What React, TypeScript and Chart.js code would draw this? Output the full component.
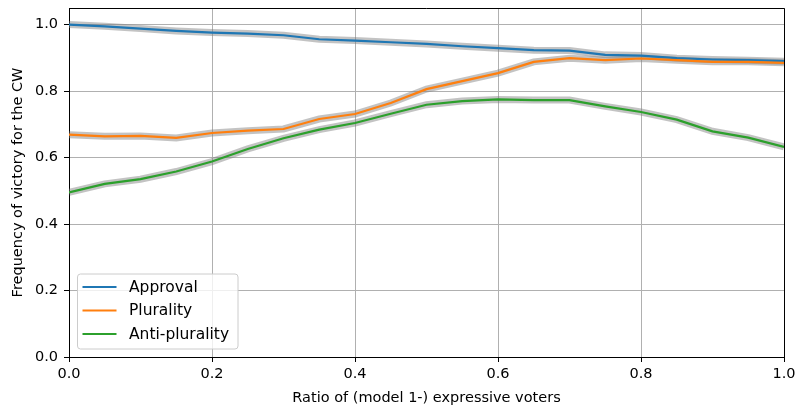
import React, { useEffect, useRef } from "react";
import { Chart, registerables } from "chart.js";

Chart.register(...registerables);

const xValues = [0, 0.05, 0.1, 0.15, 0.2, 0.25, 0.3, 0.35, 0.4, 0.45, 0.5, 0.55, 0.6, 0.65, 0.7, 0.75, 0.8, 0.85, 0.9, 0.95, 1.0];
const approval = [1.0, 0.995, 0.988, 0.981, 0.976, 0.973, 0.968, 0.956, 0.952, 0.947, 0.942, 0.935, 0.929, 0.923, 0.922, 0.909, 0.907, 0.899, 0.895, 0.893, 0.89];
const plurality = [0.669, 0.664, 0.665, 0.659, 0.674, 0.681, 0.686, 0.716, 0.731, 0.764, 0.806, 0.83, 0.854, 0.888, 0.899, 0.893, 0.898, 0.893, 0.888, 0.888, 0.885];
const antiPlurality = [0.495, 0.521, 0.535, 0.558, 0.588, 0.626, 0.658, 0.684, 0.704, 0.732, 0.759, 0.77, 0.775, 0.773, 0.773, 0.754, 0.737, 0.714, 0.679, 0.66, 0.632];
const xTicks = [0, 0.2, 0.4, 0.6, 0.8, 1.0];
const yTicks = [0, 0.2, 0.4, 0.6, 0.8, 1.0];
const seriesNames = ["Approval", "Plurality", "Anti-plurality"];
const seriesColors = ["#1f77b4", "#ff7f0e", "#2ca02c"];

const FONT = '"DejaVu Sans", sans-serif';

const toPoints = (ys: number[]) => ys.map((y, i) => ({ x: xValues[i], y }));

const framePlugin = {
  id: "frameAndLegend",
  afterDraw(chart: any) {
    const { ctx, chartArea } = chart;
    const { left, right, top, bottom } = chartArea;
    ctx.save();
    ctx.strokeStyle = "#000";
    ctx.lineWidth = 1;
    ctx.beginPath();
    ctx.moveTo(left, top + 0.5);
    ctx.lineTo(right + 0.5, top + 0.5);
    ctx.lineTo(right + 0.5, bottom);
    ctx.stroke();

    // legend
    const bx = 77.5, by = 274, bw = 160.5, bh = 75;
    ctx.beginPath();
    ctx.roundRect(bx, by, bw, bh, 3);
    ctx.fillStyle = "rgba(255,255,255,0.8)";
    ctx.fill();
    ctx.strokeStyle = "#cccccc";
    ctx.lineWidth = 1;
    ctx.stroke();
    const rows = [287, 310.5, 334];
    ctx.font = "15.5px " + FONT;
    ctx.textBaseline = "middle";
    ctx.textAlign = "left";
    seriesNames.forEach((name, i) => {
      ctx.strokeStyle = seriesColors[i];
      ctx.lineWidth = 2.2;
      ctx.beginPath();
      ctx.moveTo(82.5, rows[i]);
      ctx.lineTo(116.5, rows[i]);
      ctx.stroke();
      ctx.fillStyle = "#000";
      ctx.fillText(name, 129, rows[i] + 0.5);
    });
    ctx.restore();
  },
};

export default function App() {
  const ref = useRef<HTMLCanvasElement | null>(null);
  useEffect(() => {
    if (!ref.current) return;
    const series = [approval, plurality, antiPlurality];
    const bands = series.map((ys, i) => ({
      label: seriesNames[i] + " band",
      data: toPoints(ys),
      borderColor: "rgba(128,128,128,0.47)",
      borderWidth: 7,
      pointRadius: 0,
      tension: 0,
      order: 10 + i,
    }));
    const lines = series.map((ys, i) => ({
      label: seriesNames[i],
      data: toPoints(ys),
      borderColor: seriesColors[i],
      borderWidth: 2.2,
      pointRadius: 0,
      tension: 0,
      order: 3 - i,
    }));
    const chart = new Chart(ref.current, {
      type: "line",
      data: { datasets: [...lines, ...bands] as any },
      options: {
        animation: false,
        responsive: false,
        layout: { padding: { left: 0, right: 13, top: 8, bottom: 0 } },
        plugins: { legend: { display: false }, tooltip: { enabled: false } },
        scales: {
          x: {
            type: "linear",
            min: 0,
            max: 1,
            afterBuildTicks: (s: any) => {
              s.ticks = xTicks.map((v) => ({ value: v }));
            },
            afterFit: (s: any) => {
              s.height = 50;
              s.paddingLeft = 0;
              s.paddingRight = 0;
            },
            ticks: {
              color: "#000",
              font: { family: FONT, size: 14.5 },
              padding: 4,
              maxRotation: 0,
              callback: (v: any) => Number(v).toFixed(1),
            },
            grid: { color: "#b0b0b0", lineWidth: 1, tickColor: "#000", tickLength: 5 },
            border: { color: "#000", width: 1 },
            title: {
              display: true,
              text: "Ratio of (model 1-) expressive voters",
              color: "#000",
              font: { family: FONT, size: 14.5 },
              padding: { top: 0, bottom: 0 },
            },
          },
          y: {
            type: "linear",
            min: 0,
            max: 1.05,
            afterBuildTicks: (s: any) => {
              s.ticks = yTicks.map((v) => ({ value: v }));
            },
            afterFit: (s: any) => {
              s.width = 69;
              s.paddingTop = 0;
              s.paddingBottom = 0;
            },
            ticks: {
              color: "#000",
              font: { family: FONT, size: 14.5 },
              padding: 6,
              callback: (v: any) => Number(v).toFixed(1),
            },
            grid: { color: "#b0b0b0", lineWidth: 1, tickColor: "#000", tickLength: 5 },
            border: { color: "#000", width: 1 },
            title: {
              display: true,
              text: "Frequency of victory for the CW",
              color: "#000",
              font: { family: FONT, size: 14.5 },
              padding: { top: 9.5, bottom: 0 },
            },
          },
        },
      },
      plugins: [framePlugin],
    });
    return () => chart.destroy();
  }, []);
  return (
    <div style={{ position: "fixed", left: 0, top: 0, width: 797, height: 407, background: "#fff" }}>
      <canvas ref={ref} width={797} height={407} style={{ display: "block" }} />
    </div>
  );
}
